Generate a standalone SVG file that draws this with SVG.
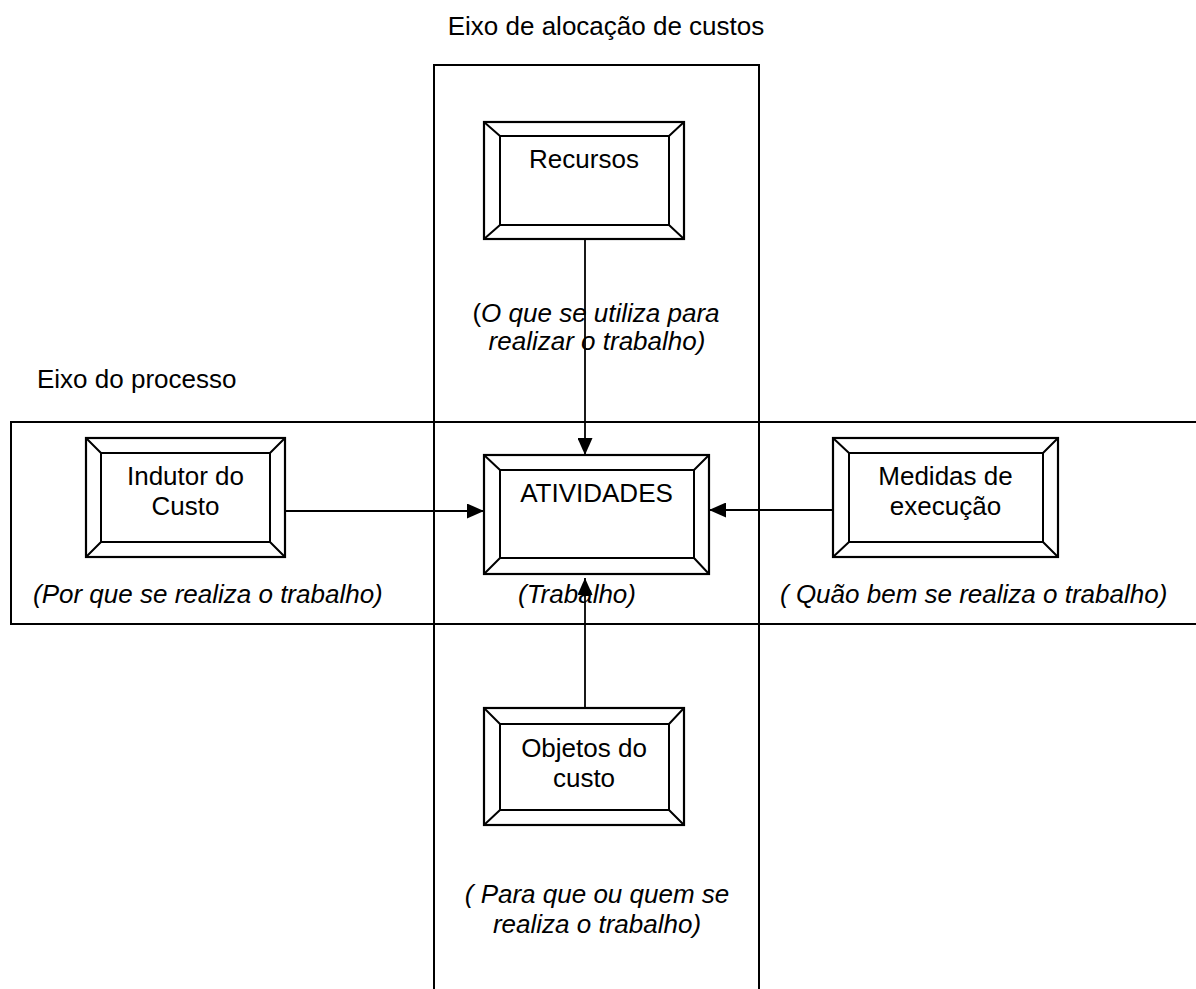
<svg xmlns="http://www.w3.org/2000/svg" width="1196" height="989" viewBox="0 0 1196 989">
<style>
.t{font-family:"Liberation Sans",Arial,sans-serif;font-size:26px;fill:#000}
.i{font-style:italic}
.m{text-anchor:middle}
.ln{fill:none;stroke:#000;stroke-width:2}
.bx{fill:#fff;stroke:#000;stroke-width:2.2}
.bv{fill:none;stroke:#000;stroke-width:2}
.c{fill:none;stroke:#000;stroke-width:1.8}
</style>
<defs>
<marker id="ah" markerUnits="userSpaceOnUse" markerWidth="17" markerHeight="15" refX="17" refY="7.5" orient="auto">
<path d="M0,0 L17,7.5 L0,15 Z" fill="#000"/>
</marker>
</defs>
<g id="axes">
<rect class="ln" x="434" y="65" width="325" height="940"/>
<rect class="ln" x="11" y="422" width="1200" height="202"/>
<text class="t m" x="606" y="35">Eixo de alocação de custos</text>
<text class="t" x="37" y="388">Eixo do processo</text>
</g>
<g id="connectors">
<line class="c" x1="585" y1="239" x2="585" y2="455" marker-end="url(#ah)"/>
<line class="c" x1="585" y1="708" x2="585" y2="578" marker-end="url(#ah)"/>
<line class="c" x1="285" y1="511" x2="484" y2="511" marker-end="url(#ah)"/>
<line class="c" x1="833" y1="510" x2="709" y2="510" marker-end="url(#ah)"/>
</g>
<g id="recursos">
<rect class="bx" x="484" y="122" width="200" height="117"/>
<rect class="bv" x="500" y="136" width="169" height="89"/>
<path class="bv" d="M484,122L500,136M684,122L669,136M484,239L500,225M684,239L669,225"/>
<text class="t m" x="584" y="168">Recursos</text>
</g>
<g id="atividades">
<rect class="bx" x="484" y="455" width="225" height="119"/>
<rect class="bv" x="500" y="470" width="194" height="88"/>
<path class="bv" d="M484,455L500,470M709,455L694,470M484,574L500,558M709,574L694,558"/>
<text class="t m" x="596.5" y="502">ATIVIDADES</text>
</g>
<g id="indutor">
<rect class="bx" x="86" y="438" width="199" height="119"/>
<rect class="bv" x="101" y="453" width="169" height="89"/>
<path class="bv" d="M86,438L101,453M285,438L270,453M86,557L101,542M285,557L270,542"/>
<text class="t m" x="185.5" y="485">Indutor do</text>
<text class="t m" x="185.5" y="515">Custo</text>
</g>
<g id="medidas">
<rect class="bx" x="833" y="438" width="225" height="119"/>
<rect class="bv" x="849" y="453" width="194" height="89"/>
<path class="bv" d="M833,438L849,453M1058,438L1043,453M833,557L849,542M1058,557L1043,542"/>
<text class="t m" x="945.5" y="485">Medidas de</text>
<text class="t m" x="945.5" y="515">execução</text>
</g>
<g id="objetos">
<rect class="bx" x="484" y="708" width="200" height="117"/>
<rect class="bv" x="500" y="724" width="169" height="86"/>
<path class="bv" d="M484,708L500,724M684,708L669,724M484,825L500,810M684,825L669,810"/>
<text class="t m" x="584" y="757">Objetos do</text>
<text class="t m" x="584" y="787">custo</text>
</g>
<g id="labels">
<text class="t m" x="596" y="322">(<tspan class="i">O que se utiliza para</tspan></text>
<text class="t i m" x="597" y="350">realizar o trabalho)</text>
<text class="t i" x="33" y="603">(Por que se realiza o trabalho)</text>
<text class="t i m" x="577" y="603">(Trabalho)</text>
<text class="t i" x="780" y="603">( Quão bem se realiza o trabalho)</text>
<text class="t i m" x="597" y="903">( Para que ou quem se</text>
<text class="t i m" x="597" y="933">realiza o trabalho)</text>
</g>
</svg>
